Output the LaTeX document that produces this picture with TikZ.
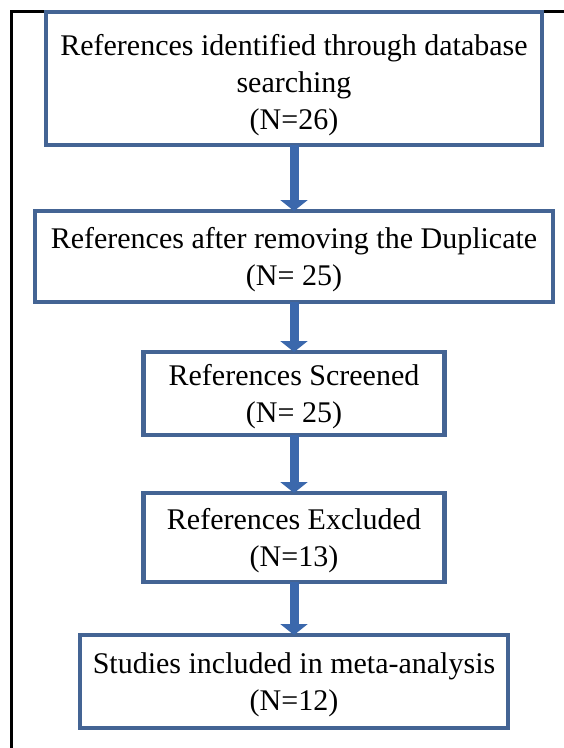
\documentclass[tikz,border=0pt]{standalone}
\usepackage{fontspec}
\setmainfont{Liberation Serif}
\usetikzlibrary{positioning,arrows.meta}
\definecolor{boxblue}{RGB}{68,100,148}
\definecolor{arrblue}{RGB}{59,104,172}
\newcommand{\gapstrut}[1]{\rule{0pt}{#1}}
\tikzset{
  bx/.style={rectangle, line width=4.5pt, draw=boxblue, fill=white, text centered, align=center, font=\fontsize{30}{37}\selectfont, inner sep=0pt, outer sep=0pt},
  ar/.style={line width=9pt, draw=arrblue, -{Triangle[width=27pt,length=11pt]}},
  node distance=55pt
}
\begin{document}
\begin{tikzpicture}
	\useasboundingbox (0,0) rectangle (564pt,-748pt);
	% outer frame
	\draw[line width=3pt] (564pt,-11pt) -- (11pt,-11pt) -- (11pt,-748pt);
	%
	\node[bx, minimum width=496pt, minimum height=133pt] (ident) at (294pt,-78.5pt) {\gapstrut{34pt}References identified through database\\searching\\(N=26)};
	\node[bx, minimum width=518pt, minimum height=91pt, below=66pt of ident] (dupl) {\gapstrut{27pt}References after removing the Duplicate\\(N= 25)};
	\node[bx, minimum width=301pt, minimum height=83pt, below=50pt of dupl] (screen) {\gapstrut{27pt}References Screened\\(N= 25)};
	\node[bx, minimum width=301pt, minimum height=89pt, below=58pt of screen] (excl) {\gapstrut{27pt}References Excluded\\(N=13)};
	\node[bx, minimum width=428pt, minimum height=93pt, below=53pt of excl] (incl) {\gapstrut{27pt}Studies included in meta-analysis\\(N=12)};
	%
	\draw[ar] (ident) -- (dupl);
	\draw[ar] (dupl) -- (screen);
	\draw[ar] (screen) -- (excl);
	\draw[ar] (excl) -- (incl);
\end{tikzpicture}
\end{document}
